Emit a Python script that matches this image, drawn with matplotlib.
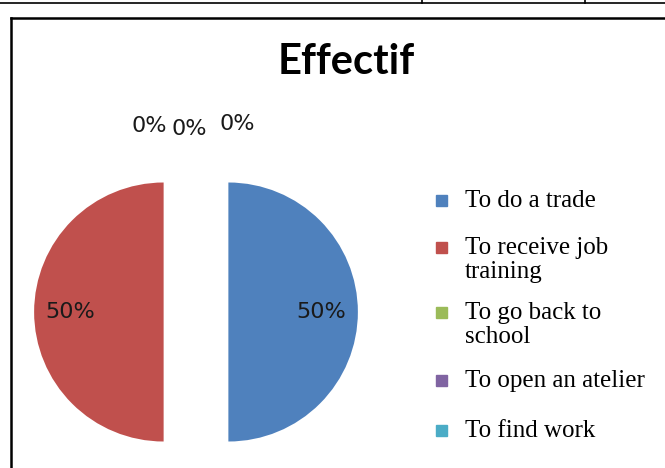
import matplotlib.pyplot as plt
from matplotlib.patches import Rectangle
from matplotlib.lines import Line2D

# Survey answers (counts give 50/50 split, the rest at zero)
labels = [
    "To do a trade",
    "To receive job\ntraining",
    "To go back to\nschool",
    "To open an atelier",
    "To find work",
]
values = [1, 1, 0, 0, 0]
colors = ["#4F81BD", "#C0504D", "#9BBB59", "#8064A2", "#4BACC6"]

W, H = 665, 468
fig = plt.figure(figsize=(W / 100, H / 100), dpi=100)


def px(x, y):
    # pixel position measured from top-left -> figure fraction
    return x / W, 1 - y / H


# table rule above the chart and the chart frame
fig.add_artist(Line2D([0, 1], [1 - 3 / H] * 2, color="black", lw=1.2))
for x in (422, 585):
    fig.add_artist(Line2D([x / W] * 2, [1, 1 - 3 / H], color="black", lw=1.2))
fig.add_artist(Line2D([11 / W, 1], [1 - 18 / H] * 2, color="black", lw=1.8))
fig.add_artist(Line2D([11 / W] * 2, [1 - 18 / H, 0], color="black", lw=1.8))

fig.text(*px(346, 62), "Effectif", ha="center", va="center",
         fontsize=30, fontweight="bold", family="Lato")

# pie axes: radius 1 == R pixels, centred at (cx, cy)
cx, cy, R = 196, 312, 129.5
lim = 1.55
side = 2 * lim * R
ax = fig.add_axes([(cx - side / 2) / W, (H - cy - side / 2) / H, side / W, side / H])

wedges, _, autotexts = ax.pie(
    values,
    colors=colors,
    startangle=90,
    counterclock=False,
    explode=[0.25] * len(values),
    autopct=lambda p: f"{p:.0f}%",
    pctdistance=0.72,
    wedgeprops=dict(linewidth=0),
    textprops=dict(fontsize=16, family="DejaVu Sans", color="#1a1a1a"),
)
ax.set_xlim(-lim, lim)
ax.set_ylim(-lim, lim)

# empty slices get their labels spread above the pie
zero_pos = [(-0.36, 1.44), (-0.05, 1.41), (0.32, 1.45)]
zi = 0
for v, t in zip(values, autotexts):
    if v == 0:
        t.set_position(zero_pos[zi])
        zi += 1

# legend drawn as squares + serif labels
legend_y = [200, 247, 312, 380, 430]
for lab, col, y in zip(labels, colors, legend_y):
    fig.add_artist(Rectangle(px(436, y + 6), 11 / W, 11 / H,
                             color=col, transform=fig.transFigure))
    fig.text(*px(465, y - 10), lab, ha="left", va="top", fontsize=18,
             family="Liberation Serif", linespacing=1.12)

fig.savefig("out.png", dpi=100)
